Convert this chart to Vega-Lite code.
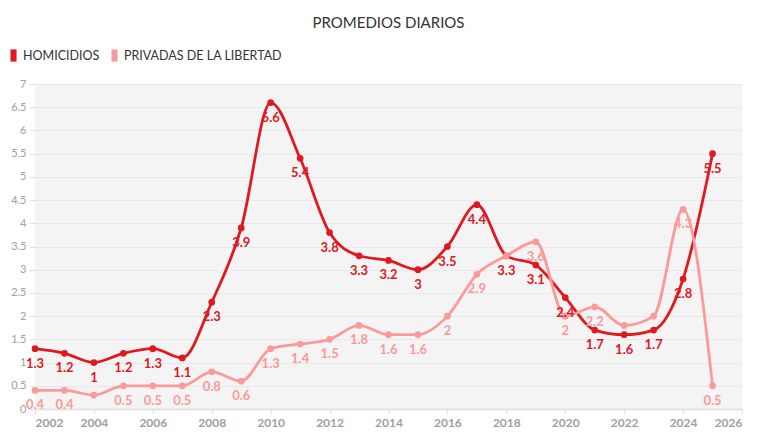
{
  "$schema": "https://vega.github.io/schema/vega-lite/v6.json",
  "autosize": {"type": "none"},
  "width": 707,
  "height": 325,
  "padding": {"left": 35, "top": 84, "right": 26, "bottom": 23},
  "background": "white",
  "title": {"text": "PROMEDIOS DIARIOS", "anchor": "middle", "frame": "group", "font": "Lato", "fontSize": 15, "fontWeight": "normal", "color": "#333", "offset": 18},
  "config": {
    "view": {"fill": "#f4f4f4", "stroke": null},
    "font": "Lato"
  },
  "data": {"values": [
    {"serie": "HOMICIDIOS", "year": 2002, "value": 1.3, "label": "1.3"},
    {"serie": "HOMICIDIOS", "year": 2003, "value": 1.2, "label": "1.2"},
    {"serie": "HOMICIDIOS", "year": 2004, "value": 1.0, "label": "1"},
    {"serie": "HOMICIDIOS", "year": 2005, "value": 1.2, "label": "1.2"},
    {"serie": "HOMICIDIOS", "year": 2006, "value": 1.3, "label": "1.3"},
    {"serie": "HOMICIDIOS", "year": 2007, "value": 1.1, "label": "1.1"},
    {"serie": "HOMICIDIOS", "year": 2008, "value": 2.3, "label": "2.3"},
    {"serie": "HOMICIDIOS", "year": 2009, "value": 3.9, "label": "3.9"},
    {"serie": "HOMICIDIOS", "year": 2010, "value": 6.6, "label": "6.6"},
    {"serie": "HOMICIDIOS", "year": 2011, "value": 5.4, "label": "5.4"},
    {"serie": "HOMICIDIOS", "year": 2012, "value": 3.8, "label": "3.8"},
    {"serie": "HOMICIDIOS", "year": 2013, "value": 3.3, "label": "3.3"},
    {"serie": "HOMICIDIOS", "year": 2014, "value": 3.2, "label": "3.2"},
    {"serie": "HOMICIDIOS", "year": 2015, "value": 3.0, "label": "3"},
    {"serie": "HOMICIDIOS", "year": 2016, "value": 3.5, "label": "3.5"},
    {"serie": "HOMICIDIOS", "year": 2017, "value": 4.4, "label": "4.4"},
    {"serie": "HOMICIDIOS", "year": 2018, "value": 3.3, "label": "3.3"},
    {"serie": "HOMICIDIOS", "year": 2019, "value": 3.1, "label": "3.1"},
    {"serie": "HOMICIDIOS", "year": 2020, "value": 2.4, "label": "2.4"},
    {"serie": "HOMICIDIOS", "year": 2021, "value": 1.7, "label": "1.7"},
    {"serie": "HOMICIDIOS", "year": 2022, "value": 1.6, "label": "1.6"},
    {"serie": "HOMICIDIOS", "year": 2023, "value": 1.7, "label": "1.7"},
    {"serie": "HOMICIDIOS", "year": 2024, "value": 2.8, "label": "2.8"},
    {"serie": "HOMICIDIOS", "year": 2025, "value": 5.5, "label": "5.5"},
    {"serie": "PRIVADAS DE LA LIBERTAD", "year": 2002, "value": 0.4, "label": "0.4"},
    {"serie": "PRIVADAS DE LA LIBERTAD", "year": 2003, "value": 0.4, "label": "0.4"},
    {"serie": "PRIVADAS DE LA LIBERTAD", "year": 2004, "value": 0.3, "label": ""},
    {"serie": "PRIVADAS DE LA LIBERTAD", "year": 2005, "value": 0.5, "label": "0.5"},
    {"serie": "PRIVADAS DE LA LIBERTAD", "year": 2006, "value": 0.5, "label": "0.5"},
    {"serie": "PRIVADAS DE LA LIBERTAD", "year": 2007, "value": 0.5, "label": "0.5"},
    {"serie": "PRIVADAS DE LA LIBERTAD", "year": 2008, "value": 0.8, "label": "0.8"},
    {"serie": "PRIVADAS DE LA LIBERTAD", "year": 2009, "value": 0.6, "label": "0.6"},
    {"serie": "PRIVADAS DE LA LIBERTAD", "year": 2010, "value": 1.3, "label": "1.3"},
    {"serie": "PRIVADAS DE LA LIBERTAD", "year": 2011, "value": 1.4, "label": "1.4"},
    {"serie": "PRIVADAS DE LA LIBERTAD", "year": 2012, "value": 1.5, "label": "1.5"},
    {"serie": "PRIVADAS DE LA LIBERTAD", "year": 2013, "value": 1.8, "label": "1.8"},
    {"serie": "PRIVADAS DE LA LIBERTAD", "year": 2014, "value": 1.6, "label": "1.6"},
    {"serie": "PRIVADAS DE LA LIBERTAD", "year": 2015, "value": 1.6, "label": "1.6"},
    {"serie": "PRIVADAS DE LA LIBERTAD", "year": 2016, "value": 2.0, "label": "2"},
    {"serie": "PRIVADAS DE LA LIBERTAD", "year": 2017, "value": 2.9, "label": "2.9"},
    {"serie": "PRIVADAS DE LA LIBERTAD", "year": 2018, "value": 3.3, "label": ""},
    {"serie": "PRIVADAS DE LA LIBERTAD", "year": 2019, "value": 3.6, "label": "3.6"},
    {"serie": "PRIVADAS DE LA LIBERTAD", "year": 2020, "value": 2.0, "label": "2"},
    {"serie": "PRIVADAS DE LA LIBERTAD", "year": 2021, "value": 2.2, "label": "2.2"},
    {"serie": "PRIVADAS DE LA LIBERTAD", "year": 2022, "value": 1.8, "label": ""},
    {"serie": "PRIVADAS DE LA LIBERTAD", "year": 2023, "value": 2.0, "label": ""},
    {"serie": "PRIVADAS DE LA LIBERTAD", "year": 2024, "value": 4.3, "label": "4.3"},
    {"serie": "PRIVADAS DE LA LIBERTAD", "year": 2025, "value": 0.5, "label": "0.5"}
  ]},
  "encoding": {
    "x": {"field": "year", "type": "quantitative",
      "scale": {"domain": [2002, 2026], "nice": false, "zero": false},
      "axis": {"values": [2002,2004,2006,2008,2010,2012,2014,2016,2018,2020,2022,2024,2026], "format": "d", "title": null, "grid": false,
        "labelFont": "Lato", "labelFontWeight": "bold", "labelFontSize": 12, "labelColor": "#a0a0a0",
        "domainColor": "#e2e2e2", "tickColor": "#e2e2e2", "tickSize": 5, "labelPadding": 3, "domainWidth": 2}},
    "y": {"field": "value", "type": "quantitative",
      "scale": {"domain": [0, 7], "nice": false},
      "axis": {"values": [0,0.5,1,1.5,2,2.5,3,3.5,4,4.5,5,5.5,6,6.5,7], "format": "~g", "title": null, "domain": false,
        "labelFont": "Lato", "labelFontSize": 11, "labelColor": "#a0a0a0", "gridColor": "#e8e8e8",
        "tickColor": "#e2e2e2", "tickSize": 6, "labelPadding": 3}},
    "color": {"field": "serie", "type": "nominal",
      "scale": {"domain": ["HOMICIDIOS", "PRIVADAS DE LA LIBERTAD"], "range": ["#e0181f", "#fa9a9a"]},
      "legend": {"title": null, "orient": "none", "legendX": -28, "legendY": -35, "direction": "horizontal",
        "symbolType": "M-0.5,-1 L0.5,-1 L0.5,1 L-0.5,1 Z", "symbolSize": 150, "symbolStrokeWidth": 0, "symbolOpacity": 1,
        "labelFont": "Lato", "labelFontSize": 12.5, "labelColor": "#333", "labelLimit": 400, "columnPadding": 8, "labelOffset": 3}}
  },
  "layer": [
    {"mark": {"type": "line", "interpolate": "monotone", "strokeWidth": 2.8}},
    {"mark": {"type": "point", "filled": true, "size": 45, "opacity": 1}},
    {"mark": {"type": "text", "dy": 15, "fontWeight": "bold", "fontSize": 13, "font": "Lato"},
      "encoding": {"text": {"field": "label"}}}
  ]
}
